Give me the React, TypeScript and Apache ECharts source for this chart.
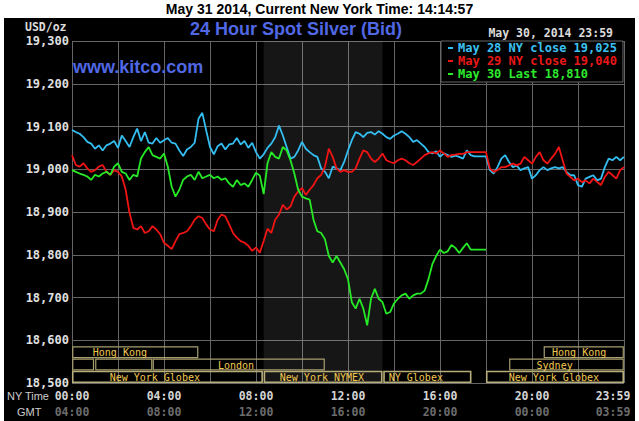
import React, { useEffect, useRef } from 'react'
import * as echarts from 'echarts'

// samples every 10 minutes, NY time, from 00:00
const SAMPLE_MIN = 10

const legendNames = ['May 28 NY close 19,025', 'May 29 NY close 19,040', 'May 30 Last 18,810']
const lineColors = ['#33bdf0', '#f01414', '#26ea26']
const legendTextColors = ['#3cc0f2', '#e81818', '#2ee82e']

// May 28 (cyan), 00:00 .. 23:59
const may28 = [
  19092, 19087, 19083, 19075, 19064, 19060, 19048, 19056, 19044, 19056, 19060, 19066,
  19050, 19079, 19066, 19052, 19075, 19095, 19066, 19087, 19062, 19060, 19073, 19062,
  19068, 19073, 19062, 19060, 19044, 19031, 19046, 19052, 19062, 19118, 19132, 19091,
  19052, 19035, 19054, 19060, 19046, 19058, 19060, 19073, 19058, 19066, 19050, 19062,
  19040, 19025, 19035, 19050, 19060, 19075, 19102, 19079, 19052, 19025, 19029, 19044,
  19064, 19048, 19040, 19033, 19029, 19002, 18994, 18979, 19006, 19002, 18998, 19017,
  19044, 19068, 19087, 19083, 19075, 19085, 19087, 19081, 19089, 19083, 19075, 19071,
  19079, 19083, 19089, 19083, 19075, 19064, 19068, 19060, 19052, 19040, 19037, 19042,
  19029, 19037, 19033, 19029, 19032, 19029, 19025, 19044, 19033, 19030, 19030, 19030,
  19030, 18998, 18990, 19005, 19025, 19033, 19017, 19005, 19009, 18998, 19002, 19005,
  18978, 18986, 18998, 19005, 18998, 19002, 19005, 19002, 19005, 18994, 18986, 18986,
  18963, 18959, 18978, 18982, 18986, 18974, 18978, 19005, 19025, 19021, 19029, 19021,
  19029,
]

// May 29 (red)
const may29 = [
  19033, 19010, 19006, 19014, 19002, 18994, 18998, 19006, 19010, 18994, 18987, 18998,
  18994, 18983, 18952, 18898, 18863, 18859, 18867, 18851, 18855, 18867, 18859, 18848,
  18828, 18821, 18813, 18832, 18848, 18851, 18855, 18867, 18882, 18890, 18886, 18871,
  18859, 18855, 18882, 18894, 18890, 18871, 18851, 18840, 18832, 18828, 18821, 18809,
  18817, 18805, 18832, 18861, 18851, 18882, 18894, 18917, 18906, 18913, 18936, 18948,
  18956, 18940, 18952, 18963, 18979, 18987, 19006, 19048, 19029, 19002, 18994, 18998,
  18994, 18994, 19002, 19025, 19044, 19040, 19025, 19017, 19025, 19037, 19021, 19017,
  19014, 19021, 19025, 19021, 19014, 19010, 19017, 19025, 19033, 19037, 19040, 19037,
  19044, 19037, 19029, 19033, 19034, 19036, 19036, 19040, 19040, 19040, 19040, 19040,
  19040, 19002, 18994, 18998, 19005, 19005, 19009, 19013, 19009, 19013, 19029, 19021,
  19013, 19029, 19040, 19021, 19013, 19025, 19036, 19052, 19021, 18990, 18982, 18974,
  18978, 18970, 18974, 18967, 18978, 18970, 18963, 18982, 18994, 18986, 18978, 18998,
  19005,
]

// May 30 (green), ends 18:00
const may30 = [
  18998, 18994, 18990, 18987, 18983, 18975, 18987, 18983, 18990, 18994, 18987, 19006,
  19014, 18994, 18990, 18975, 18987, 18983, 19025, 19040, 19052, 19033, 19029, 19025,
  19037, 19006, 18959, 18936, 18952, 18975, 18983, 18987, 18975, 18994, 18979, 18983,
  18987, 18979, 18983, 18975, 18979, 18967, 18959, 18975, 18963, 18967, 18959, 18975,
  18992, 18985, 18942, 19014, 19040, 19029, 19025, 19052, 19044, 19021, 18990, 18952,
  18936, 18932, 18929, 18882, 18855, 18851, 18836, 18797, 18782, 18797, 18782, 18766,
  18743, 18689, 18674, 18697, 18674, 18635, 18697, 18720, 18697, 18689, 18662, 18666,
  18686, 18697, 18705, 18709, 18697, 18705, 18709, 18709, 18716, 18743, 18778, 18797,
  18812, 18804, 18808, 18823, 18816, 18804, 18816, 18827, 18812, 18812, 18812, 18812,
  18812,
]

const yTickValues = [18500, 18600, 18700, 18800, 18900, 19000, 19100, 19200, 19300]
const yTickLabels = ['18,500', '18,600', '18,700', '18,800', '18,900', '19,000', '19,100', '19,200', '19,300']

const xTickValues = [0, 240, 480, 720, 960, 1200, 1440]
const nyTimeLabels = ['00:00', '04:00', '08:00', '12:00', '16:00', '20:00', '23:59']
const gmtLabels = ['04:00', '08:00', '12:00', '16:00', '20:00', '00:00', '03:59']

// NYMEX floor session (shaded), minutes
const nymexShade = [500, 810]

// [name, row (0 = top), start, end, label at] in minutes of NY time
const sessions: [string, number, number, number, number][] = [
  ['Hong Kong', 0, 0, 330, 125],
  ['', 1, 0, 58, 0],
  ['', 1, 60, 210, 0],
  ['London', 1, 210, 660, 428],
  ['New York Globex', 2, 0, 498, 216],
  ['New York NYMEX', 2, 500, 810, 652],
  ['NY Globex', 2, 812, 1042, 897],
  ['New York Globex', 2, 1080, 1440, 1257],
  ['Sydney', 1, 1140, 1440, 1259],
  ['Hong Kong', 0, 1230, 1440, 1323],
]

const MONO = '"DejaVu Sans Mono", "Liberation Mono", monospace'
const SANS = '"Liberation Sans", Arial, sans-serif'
const GRID = '#666666'
const BLUE = '#5068e4'
const ROW_H = 12.3

const toPoints = (vals: number[]) => vals.map((v, i) => [i * SAMPLE_MIN, v])

function timeLabel(labels: string[]) {
  return (v: number) => {
    const i = xTickValues.indexOf(v)
    if (i < 0) return ''
    return i === xTickValues.length - 1 ? `{last|${labels[i]}}` : labels[i]
  }
}

export default function App() {
  const ref = useRef<HTMLDivElement>(null)

  useEffect(() => {
    const chart = echarts.init(ref.current as HTMLDivElement, undefined, { renderer: 'svg' })
    const yMin = yTickValues[0]
    const xMax = xTickValues[xTickValues.length - 1]

    const lineSeries = [may28, may29, may30].map((vals, i) => ({
      name: legendNames[i],
      type: 'line',
      data: toPoints(vals),
      showSymbol: false,
      silent: true,
      z: 3 + i,
      lineStyle: { width: 1.8, color: lineColors[i] },
      itemStyle: { color: lineColors[i] },
    }))

    chart.setOption({
      animation: false,
      backgroundColor: '#ffffff',
      title: [
        {
          text: 'May 31 2014, Current New York Time: 14:14:57',
          left: 'center', top: 2, padding: 0,
          textStyle: { color: '#000', fontSize: 14, fontWeight: 'bold', fontFamily: SANS },
        },
        {
          text: '24 Hour Spot Silver (Bid)',
          left: 190, top: 20, padding: 0,
          textStyle: { color: BLUE, fontSize: 18, fontWeight: 'bold', fontFamily: SANS },
        },
        {
          text: 'www.kitco.com',
          left: 73, top: 58, padding: 0,
          textStyle: { color: BLUE, fontSize: 18, fontWeight: 'bold', fontFamily: SANS },
        },
      ],
      graphic: [
        { type: 'rect', x: 4, y: 18, z: -10, shape: { x: 0, y: 0, width: 631, height: 404 }, style: { fill: '#000' } },
        {
          type: 'text', x: 25, y: 27, z: 10,
          style: { text: 'USD/oz', fill: '#dcdcdc', font: `bold 11.5px ${MONO}`, textVerticalAlign: 'middle', verticalAlign: 'middle' },
        },
        {
          type: 'text', x: 613, y: 33, z: 10,
          style: {
            text: 'May 30, 2014 23:59', fill: '#dcdcdc', font: `bold 11.5px ${MONO}`,
            textAlign: 'right', align: 'right', textVerticalAlign: 'middle', verticalAlign: 'middle',
          },
        },
        {
          type: 'text', x: 7, y: 396, z: 10,
          style: { text: 'NY Time', fill: '#cccccc', font: `11px ${SANS}`, textVerticalAlign: 'middle', verticalAlign: 'middle' },
        },
        {
          type: 'text', x: 17, y: 412, z: 10,
          style: { text: 'GMT', fill: '#cccccc', font: `11px ${SANS}`, textVerticalAlign: 'middle', verticalAlign: 'middle' },
        },
      ],
      legend: {
        orient: 'vertical',
        left: 441, top: 41,
        padding: [1, 6, 2, 7],
        itemGap: 1,
        itemWidth: 5, itemHeight: 2,
        icon: 'rect',
        selectedMode: false,
        backgroundColor: '#000',
        borderColor: GRID, borderWidth: 1, borderRadius: 0,
        textStyle: { fontFamily: MONO, fontWeight: 'bold', fontSize: 12, lineHeight: 12 },
        data: legendNames.map((n, i) => ({ name: n, textStyle: { color: legendTextColors[i] } })),
      },
      grid: { left: 72, top: 41, right: 15, bottom: 38, containLabel: false, outerBoundsMode: 'none' },
      xAxis: [
        {
          type: 'value', min: 0, max: xMax, interval: 120, position: 'bottom',
          axisLine: { show: false }, axisTick: { show: false },
          splitLine: { show: true, lineStyle: { color: GRID, width: 1 } },
          axisLabel: {
            margin: 7, color: '#d4d4d4', fontFamily: MONO, fontWeight: 'bold', fontSize: 11.5,
            formatter: timeLabel(nyTimeLabels),
            rich: { last: { padding: [0, 22, 0, 0], color: '#d4d4d4', fontFamily: MONO, fontWeight: 'bold', fontSize: 11.5 } },
          },
        },
        {
          type: 'value', min: 0, max: xMax, interval: 120, position: 'bottom', offset: 16,
          axisLine: { show: false }, axisTick: { show: false }, splitLine: { show: false },
          axisLabel: {
            margin: 7, color: '#6c6c6c', fontFamily: MONO, fontWeight: 'bold', fontSize: 11.5,
            formatter: timeLabel(gmtLabels),
            rich: { last: { padding: [0, 22, 0, 0], color: '#6c6c6c', fontFamily: MONO, fontWeight: 'bold', fontSize: 11.5 } },
          },
        },
      ],
      yAxis: {
        type: 'value', min: yMin, max: yTickValues[yTickValues.length - 1], interval: 100,
        axisLine: { show: false }, axisTick: { show: false },
        splitLine: { show: true, lineStyle: { color: GRID, width: 1 } },
        axisLabel: {
          margin: 3, color: '#e0e0e0', fontFamily: MONO, fontWeight: 'bold', fontSize: 12,
          formatter: (v: number) => yTickLabels[yTickValues.indexOf(v)] ?? '',
        },
      },
      series: [
        {
          type: 'line', data: [], silent: true, z: 1,
          markArea: {
            silent: true,
            itemStyle: { color: 'rgba(255,255,255,0.085)' },
            data: [[{ xAxis: nymexShade[0] }, { xAxis: nymexShade[1] }]],
          },
        },
        {
          type: 'custom', z: 2, silent: true, clip: false,
          data: sessions.map((s) => [s[2], s[3], s[1], s[4]]),
          renderItem: (params: any, api: any) => {
            const name = sessions[params.dataIndex][0]
            const bottom = api.coord([0, yMin])[1]
            const xs = api.coord([api.value(0), yMin])[0]
            const xe = api.coord([api.value(1), yMin])[0]
            const xl = api.coord([api.value(3), yMin])[0]
            const row = api.value(2)
            const top = bottom - (3 - row) * ROW_H
            return {
              type: 'group',
              children: [
                {
                  type: 'rect',
                  shape: { x: xs + 0.75, y: top + 0.75, width: xe - xs - 1.5, height: ROW_H - 1.5 },
                  style: { fill: 'none', stroke: row === 2 ? '#b8ae7a' : '#a69e6e', lineWidth: row === 2 ? 1.6 : 1.2 },
                },
                {
                  type: 'text',
                  style: {
                    text: name, x: xl, y: top + ROW_H / 2 + 0.5, fill: '#f2c850',
                    font: `10px ${MONO}`, align: 'center', textAlign: 'center',
                    verticalAlign: 'middle', textVerticalAlign: 'middle',
                  },
                },
              ],
            }
          },
        },
        ...lineSeries,
      ],
    })
    return () => chart.dispose()
  }, [])

  return (
    <div style={{ position: 'fixed', left: 0, top: 0, width: 639, height: 421, background: '#fff' }}>
      <div ref={ref} style={{ width: 639, height: 421 }} />
    </div>
  )
}
